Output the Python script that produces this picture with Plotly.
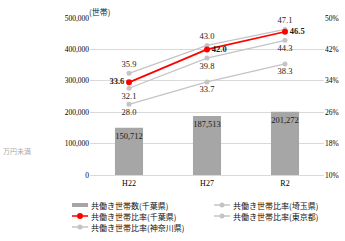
import plotly.graph_objects as go

categories = ["H22", "H27", "R2"]
households_chiba = [150712, 187513, 201272]
ratio_chiba = [33.6, 42.0, 46.5]
ratio_saitama = [35.9, 43.0, 47.1]
ratio_kanagawa = [32.1, 39.8, 44.3]
ratio_tokyo = [28.0, 33.7, 38.3]
left_ticks = [0, 100000, 200000, 300000, 400000, 500000]
right_ticks = [10, 18, 26, 34, 42, 50]

name_bar = "共働き世帯数(千葉県)"
name_chiba = "共働き世帯比率(千葉県)"
name_saitama = "共働き世帯比率(埼玉県)"
name_tokyo = "共働き世帯比率(東京都)"
name_kanagawa = "共働き世帯比率(神奈川県)"

FONT = "Liberation Serif, Noto Sans CJK JP"
JFONT = "Noto Sans CJK JP"
GRAY = "#C4C4C4"
BARGRAY = "#A6A6A6"
RED = "#FF0000"
TXT = "#1a1a1a"

W, H = 345, 241
ML, MR, MT, MB = 90, 21, 18, 66
PW, PH = W - ML - MR, H - MT - MB


def px(xp):
    return (xp - ML) / PW


def py(yp):
    return (H - MB - yp) / PH


fig = go.Figure()

fig.add_trace(go.Bar(
    x=categories, y=households_chiba, name=name_bar,
    marker=dict(color=BARGRAY, line=dict(width=0)),
    text=[f"{v:,}" for v in households_chiba], textposition="inside",
    insidetextanchor="end", textangle=0, constraintext="none",
    textfont=dict(size=8.5, color=TXT, family=FONT),
    width=0.36, hoverinfo="skip",
))


def ratio_trace(vals, name, pos, color=GRAY, lw=1.3, ms=5, bold=False):
    return go.Scatter(
        x=categories, y=vals, name=name, yaxis="y2", mode="lines+markers+text",
        line=dict(color=color, width=lw), marker=dict(color=color, size=ms, symbol="circle"),
        text=[f"<b>{v:.1f}</b>" if bold else f"{v:.1f}" for v in vals],
        textposition=pos, textfont=dict(size=8.5, color=TXT, family=FONT),
        cliponaxis=False, hoverinfo="skip",
    )


fig.add_trace(ratio_trace(ratio_tokyo, name_tokyo, "bottom center"))
fig.add_trace(ratio_trace(ratio_kanagawa, name_kanagawa, "bottom center"))
fig.add_trace(ratio_trace(ratio_saitama, name_saitama, "top center"))
fig.add_trace(ratio_trace(ratio_chiba, name_chiba,
                          ["middle left", "middle right", "middle right"],
                          color=RED, lw=1.7, ms=6, bold=True))

# manual legend (two columns, compact rows like the original)
shapes = []
annotations = []
legend_items = [
    (name_bar, 72, 88, 205, "bar", BARGRAY),
    (name_chiba, 72, 88, 216, "line", RED),
    (name_kanagawa, 72, 88, 227, "line", GRAY),
    (name_saitama, 214, 230, 205, "line", GRAY),
    (name_tokyo, 214, 230, 216, "line", GRAY),
]
for name, x0, x1, yy, kind, col in legend_items:
    if kind == "bar":
        shapes.append(dict(type="line", xref="paper", yref="paper",
                           x0=px(x0), x1=px(x1), y0=py(yy), y1=py(yy),
                           line=dict(color=col, width=4)))
    else:
        shapes.append(dict(type="line", xref="paper", yref="paper",
                           x0=px(x0), x1=px(x1), y0=py(yy), y1=py(yy),
                           line=dict(color=col, width=1.5)))
        r = 3 if col == RED else 2.5
        shapes.append(dict(type="circle", xref="paper", yref="paper",
                           xsizemode="pixel", ysizemode="pixel",
                           xanchor=px((x0 + x1) / 2), yanchor=py(yy),
                           x0=-r, x1=r, y0=-r, y1=r,
                           fillcolor=col, line=dict(color=col, width=0)))
    annotations.append(dict(text=name, x=px(x1 + 1), y=py(yy), xref="paper", yref="paper",
                            showarrow=False, xanchor="left", yanchor="middle",
                            font=dict(size=8, family=JFONT, color="#111111")))

annotations.append(dict(text="(世帯)", x=px(87), y=py(11), xref="paper", yref="paper",
                        showarrow=False, xanchor="left", yanchor="middle",
                        font=dict(size=8, family=JFONT, color=TXT)))
annotations.append(dict(text="万円未満", x=px(1), y=py(151), xref="paper", yref="paper",
                        showarrow=False, xanchor="left", yanchor="middle",
                        font=dict(size=7, family=JFONT, color="#AAAAAA")))

fig.update_layout(
    template="none",
    width=W, height=H,
    margin=dict(l=ML, r=MR, t=MT, b=MB, pad=0),
    paper_bgcolor="white", plot_bgcolor="white",
    font=dict(family=FONT, size=8, color=TXT),
    showlegend=False,
    hovermode=False,
    bargap=0.64,
    xaxis=dict(type="category", color="#000000", tickfont=dict(size=8, color="#000000"),
               showgrid=False, showline=True, linecolor="#D9D9D9", linewidth=1, ticks="",
               automargin=False),
    yaxis=dict(range=[0, 500000], tickvals=left_ticks, color="black",
               ticktext=[f"{v:,}" for v in left_ticks],
               showgrid=True, gridcolor="#D9D9D9", gridwidth=1,
               zeroline=False, showline=False,
               tickfont=dict(size=7.5, color="black", family="Liberation Serif"),
               ticks="", automargin=False),
    yaxis2=dict(overlaying="y", side="right", range=[10, 50], tickvals=right_ticks,
                ticktext=[f"{v}%" for v in right_ticks], showgrid=False, color="#000000",
                zeroline=False, showline=False,
                tickfont=dict(size=7.5, color="#000000", family="Liberation Serif"),
                ticks="", automargin=False),
    shapes=shapes,
    annotations=annotations,
)

fig.write_html("out.html", config={"displayModeBar": False, "staticPlot": True},
               post_script="document.body.style.margin='0';document.body.style.overflow='hidden';")
